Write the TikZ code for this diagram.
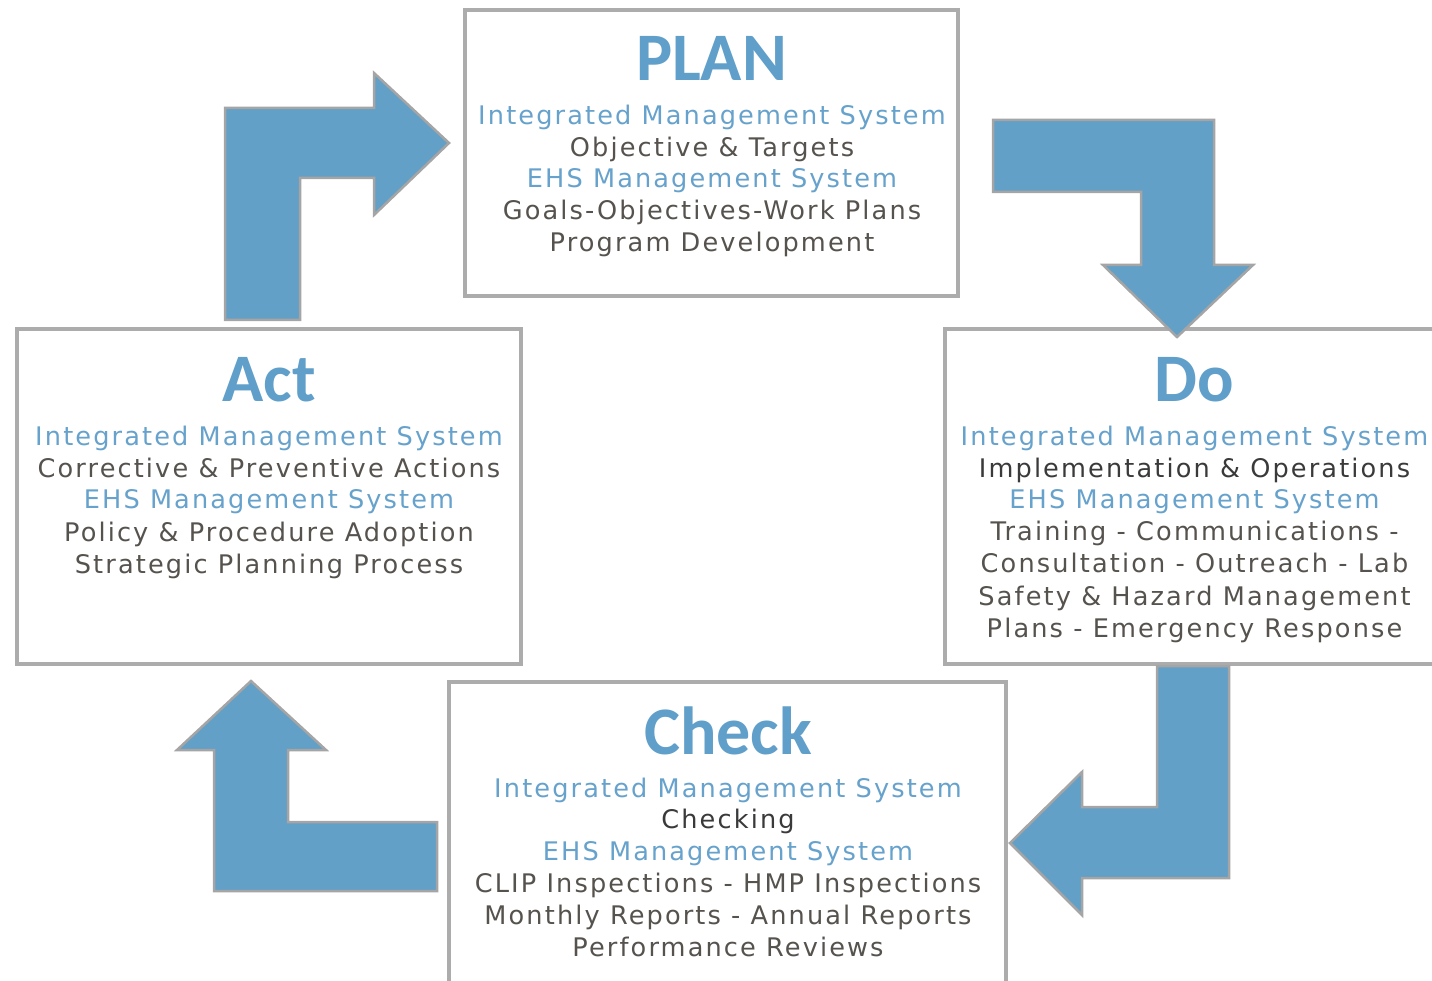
\documentclass[tikz,border=0pt]{standalone}
\usepackage{fontspec}
\newfontfamily\bodyfont[LetterSpace=8.3]{DejaVu Sans}
\newfontfamily\titlefont[BoldFont={Carlito Bold}]{Carlito}
\definecolor{arrowblue}{RGB}{99,160,200}
\definecolor{txtblue}{RGB}{102,162,204}
\definecolor{titleblue}{RGB}{96,159,201}
\definecolor{boxgray}{RGB}{172,172,172}
\definecolor{arrowgray}{RGB}{165,165,165}
\definecolor{txtgray}{RGB}{86,82,78}
\definecolor{txtdark}{RGB}{58,58,58}
\tikzset{
  panel/.style={draw=boxgray, line width=4pt, fill=white, inner sep=0pt, rectangle},
  title/.style={anchor=base, inner sep=0pt, text=titleblue, font=\titlefont\bfseries\fontsize{68}{68}\selectfont},
  body/.style={anchor=base, inner sep=0pt, text=txtgray, font=\bodyfont\fontsize{25.6}{30}\selectfont},
  sys/.style={body, text=txtblue},
  dark/.style={body, text=txtdark},
  bigarrow/.style={fill=arrowblue, draw=arrowgray, line width=2.5pt, line join=miter}
}
\begin{document}
\begin{tikzpicture}[x=1pt, y=-1pt]
\useasboundingbox (0,0) rectangle (1432,981);
\clip (0,0) rectangle (1432,981);

% boxes
\node[panel, minimum width=493pt, minimum height=286pt] (planbox) at (711.5,153) {};
\node[panel, minimum width=504pt, minimum height=335pt] (actbox) at (269,496.5) {};
\node[panel, minimum width=495pt, minimum height=335pt] (dobox) at (1192.5,496.5) {};
\node[panel, minimum width=557pt, minimum height=318pt] (checkbox) at (727.5,841) {};

% arrows
\draw[bigarrow] (225,320) -- (300,320) -- (300,178) -- (374,178) -- (374,215) -- (449,143) -- (374,73) -- (374,108) -- (225,108) -- cycle;
\draw[bigarrow] (993,120) -- (1214,120) -- (1214,265) -- (1253,265) -- (1177,337) -- (1103,265) -- (1141,265) -- (1141,192) -- (993,192) -- cycle;
\draw[bigarrow] (1157,666) -- (1229,666) -- (1229,878) -- (1082,878) -- (1082,915) -- (1010,843) -- (1082,772) -- (1082,807) -- (1157,807) -- cycle;
\draw[bigarrow] (437,822) -- (437,891) -- (214,891) -- (214,750) -- (177,750) -- (251,681) -- (326,750) -- (288,750) -- (288,822) -- cycle;

% PLAN
\node[title] (plant) at (711.5,81) {PLAN};
\node[sys]  (p1) at (712,125) {Integrated Management System};
\node[body] (p2) at (712,157) {Objective \& Targets};
\node[sys]  (p3) at (712,188) {EHS Management System};
\node[body] (p4) at (712,220) {Goals-Objectives-Work Plans};
\node[body] (p5) at (712,252) {Program Development};

% Act
\node[title] (actt) at (269,402) {Act};
\node[sys]  (a1) at (269,445) {Integrated Management System};
\node[body] (a2) at (269,477) {Corrective \& Preventive Actions};
\node[sys]  (a3) at (269,508) {EHS Management System};
\node[body] (a4) at (269,541) {Policy \& Procedure Adoption};
\node[body] (a5) at (269,573) {Strategic Planning Process};

% Do
\node[title] (dot) at (1194.5,402) {Do};
\node[sys]  (d1) at (1194.5,445) {Integrated Management System};
\node[dark] (d2) at (1194.5,477) {Implementation \& Operations};
\node[sys]  (d3) at (1194.5,508) {EHS Management System};
\node[body] (d4) at (1194.5,540) {Training - Communications -};
\node[body] (d5) at (1194.5,572) {Consultation - Outreach - Lab};
\node[body] (d6) at (1194.5,605) {Safety \& Hazard Management};
\node[body] (d7) at (1194.5,637) {Plans - Emergency Response};

% Check
\node[title] (checkt) at (728,754) {Check};
\node[sys]  (c1) at (728,797) {Integrated Management System};
\node[dark] (c2) at (728,828) {Checking};
\node[sys]  (c3) at (728,860) {EHS Management System};
\node[body] (c4) at (728,892) {CLIP Inspections - HMP Inspections};
\node[body] (c5) at (728,924) {Monthly Reports - Annual Reports};
\node[body] (c6) at (728,956) {Performance Reviews};
\end{tikzpicture}
\end{document}
